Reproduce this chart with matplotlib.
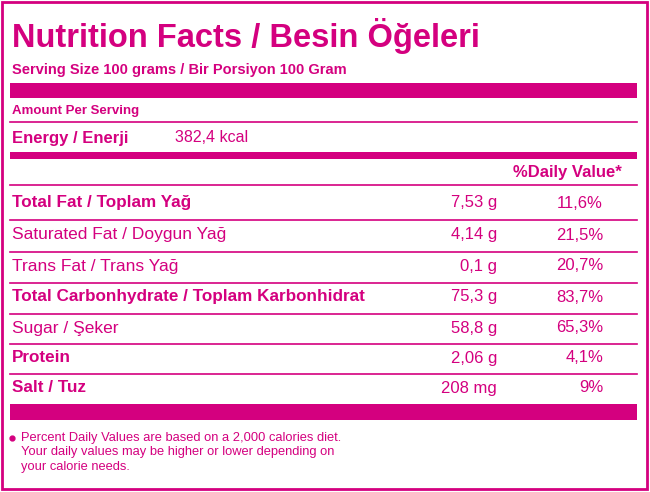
import matplotlib
matplotlib.use("Agg")
from matplotlib import pyplot as plt
from matplotlib.patches import Rectangle

PINK = "#d4007f"
FAM = ["Liberation Sans Narrow", "Liberation Sans", "DejaVu Sans"]

row_names = ["Total Fat / Toplam Yağ", "Saturated Fat / Doygun Yağ", "Trans Fat / Trans Yağ",
             "Total Carbonhydrate / Toplam Karbonhidrat", "Sugar / Şeker", "Protein", "Salt / Tuz"]
row_bold = [True, False, False, True, False, True, True]
amounts = ["7,53 g", "4,14 g", "0,1 g", "75,3 g", "58,8 g", "2,06 g", "208 mg"]
daily = ["11,6%", "21,5%", "20,7%", "83,7%", "65,3%", "4,1%", "9%"]
energy = "382,4 kcal"
footnote = ["Percent Daily Values are based on a 2,000 calories diet.",
            "Your daily values may be higher or lower depending on",
            "your calorie needs."]

fig = plt.figure(figsize=(6.5, 4.92), dpi=100)
ax = fig.add_axes([0, 0, 1, 1])
ax.set_xlim(0, 650)
ax.set_ylim(492, 0)
ax.axis("off")

def txt(x, y, s, size, bold=False, ha="left"):
    ax.text(x, y, s, fontsize=size, color=PINK, fontweight="bold" if bold else "normal",
            ha=ha, va="center", family=FAM, fontstretch="condensed")

def bar(y0, y1):
    ax.add_patch(Rectangle((10, y0), 627, y1 - y0, color=PINK, lw=0))

def hline(y):
    ax.plot([10, 637], [y, y], color=PINK, lw=1.2)

ax.add_patch(Rectangle((2, 2), 645, 487, fill=False, ec=PINK, lw=2))

txt(12, 36, "Nutrition Facts / Besin Öğeleri", 23.5, True)
txt(12, 70, "Serving Size 100 grams / Bir Porsiyon 100 Gram", 10.5, True)
bar(83, 98)
txt(12, 111, "Amount Per Serving", 9.5, True)
hline(122)
txt(12, 138, "Energy / Enerji", 12, True)
txt(175, 138, energy, 11.5)
bar(152, 159)
txt(622, 172, "%Daily Value*", 12, True, ha="right")
hline(185)

ys = [203, 235, 266, 297, 328, 358, 388]
for i, (n, b, a, d) in enumerate(zip(row_names, row_bold, amounts, daily)):
    y = ys[i]
    txt(12, y, n, 12.3 if b else 12.5, b)
    txt(497, y, a, 12, ha="right")
    txt(603, y, d, 12, ha="right")
    if i < len(ys) - 1:
        hline((ys[i] + ys[i + 1]) / 2 + 1)

bar(404, 420)
ax.plot(12, 438, "o", color=PINK, ms=3.5)
for j, line in enumerate(footnote):
    txt(21, 438 + j * 14.5, line, 9.3)

fig.savefig("out.png", dpi=100)
